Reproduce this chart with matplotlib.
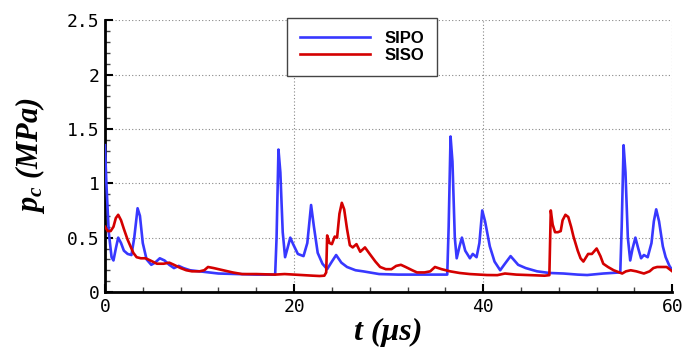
import matplotlib
matplotlib.use("Agg")
import matplotlib.pyplot as plt
from matplotlib.ticker import MultipleLocator

# ---- data ----
t_sipo = [0, 0.15, 0.4, 0.7, 0.9, 1.15, 1.4, 1.7, 2.0, 2.4, 2.8, 3.1, 3.45, 3.7, 4.0, 4.4,
          4.9, 5.3, 5.8, 6.3, 6.8, 7.3, 7.8, 8.3, 9.0, 10.0, 11.0, 12.0, 14.0, 16.0, 18.0,
          18.15, 18.35, 18.55, 18.8, 19.05, 19.3, 19.6, 19.9, 20.4, 21.0, 21.4, 21.8, 22.1,
          22.5, 23.0, 23.5, 24.0, 24.45, 25.0, 25.6, 26.5, 27.3, 29.0, 31.0, 33.0, 35.0,
          36.2, 36.35, 36.55, 36.75, 37.0, 37.2, 37.5, 37.75, 38.1, 38.6, 38.9, 39.3, 39.6,
          39.9, 40.2, 40.7, 41.2, 41.8, 42.3, 42.9, 43.7, 44.5, 45.7, 47.0, 48.5, 50.0, 51.0,
          52.7, 54.5, 54.65, 54.85, 55.05, 55.3, 55.55, 55.8, 56.1, 56.4, 56.7, 57.0, 57.4,
          57.8, 58.05, 58.3, 58.6, 59.0, 59.3, 59.7, 60.0]
p_sipo = [1.35, 1.0, 0.55, 0.32, 0.29, 0.4, 0.5, 0.45, 0.38, 0.35, 0.34, 0.5, 0.77, 0.7, 0.45, 0.3,
          0.25, 0.27, 0.31, 0.29, 0.25, 0.22, 0.24, 0.22, 0.2, 0.19, 0.18, 0.17, 0.165, 0.16, 0.16,
          0.5, 1.31, 1.1, 0.55, 0.32, 0.4, 0.5, 0.44, 0.35, 0.33, 0.45, 0.8, 0.6,
          0.36, 0.26, 0.21, 0.28, 0.34, 0.27, 0.23, 0.2, 0.19, 0.165, 0.16, 0.16, 0.16,
          0.16, 0.6, 1.43, 1.2, 0.5, 0.31, 0.42, 0.5, 0.38, 0.31, 0.35, 0.32, 0.45,
          0.75, 0.65, 0.42, 0.28, 0.2, 0.26, 0.33, 0.25, 0.22, 0.19, 0.175, 0.17, 0.16, 0.156,
          0.17, 0.18, 0.6, 1.35, 1.1, 0.5, 0.29, 0.4, 0.5, 0.4, 0.31, 0.34, 0.32,
          0.45, 0.65, 0.76, 0.65, 0.42, 0.32, 0.24, 0.2]

t_siso = [0, 0.3, 0.6, 0.9, 1.15, 1.4, 1.7, 2.0, 2.4, 2.7, 3.0, 3.35, 3.8, 4.3, 4.8, 5.5, 6.2,
          6.8, 7.3, 8.0, 8.6, 9.2, 10.0, 10.5, 10.9, 11.5, 12.5, 13.5, 14.5, 16.0, 18.0, 19.0,
          20.0, 21.0, 22.0, 22.7, 23.2, 23.4, 23.5, 23.75, 24.0, 24.3, 24.55, 24.8, 25.05,
          25.3, 25.6, 25.9, 26.2, 26.6, 27.0, 27.5, 28.0, 28.6, 29.1, 29.7, 30.3, 30.8, 31.3,
          31.8, 32.5, 33.0, 33.8, 34.4, 34.9, 35.6, 36.5, 37.5, 38.6, 40.4, 41.5, 42.3, 43.5,
          45.0, 46.5, 47.0, 47.15, 47.35, 47.6, 47.9, 48.2, 48.4, 48.7, 49.0, 49.3, 49.55,
          50.0, 50.3, 50.6, 51.1, 51.5, 52.0, 52.4, 52.7, 53.2, 53.8, 54.7, 55.1, 55.6, 56.2,
          57.0, 57.6, 58.0, 58.4, 59.4, 60.0]
p_siso = [0.6, 0.56, 0.56, 0.6, 0.68, 0.71, 0.66, 0.58, 0.48, 0.42, 0.36, 0.32, 0.31, 0.31, 0.29, 0.26, 0.26,
          0.27, 0.25, 0.22, 0.2, 0.19, 0.19, 0.2, 0.23, 0.22, 0.2, 0.18, 0.165, 0.165, 0.16, 0.165,
          0.16, 0.155, 0.15, 0.147, 0.15, 0.18, 0.52, 0.45, 0.44, 0.51, 0.5, 0.72, 0.82,
          0.76, 0.58, 0.43, 0.41, 0.44, 0.37, 0.41, 0.35, 0.28, 0.23, 0.21, 0.21, 0.24, 0.25,
          0.23, 0.2, 0.18, 0.18, 0.19, 0.23, 0.21, 0.19, 0.175, 0.165, 0.156, 0.155, 0.17, 0.16,
          0.155, 0.15, 0.155, 0.75, 0.62, 0.55, 0.55, 0.56, 0.66, 0.71, 0.69, 0.6, 0.51,
          0.38, 0.31, 0.28, 0.35, 0.35, 0.4, 0.33, 0.26, 0.23, 0.2, 0.17, 0.19, 0.2, 0.19,
          0.17, 0.19, 0.22, 0.23, 0.23, 0.19]

labels = ["SIPO", "SISO"]
y_ticks = [0, 0.5, 1, 1.5, 2, 2.5]
y_ticklabels = ["0", "0.5", "1", "1.5", "2", "2.5"]
x_ticks = [0, 20, 40, 60]
x_ticklabels = ["0", "20", "40", "60"]

plt.rcParams['mathtext.fontset'] = 'custom'
plt.rcParams['mathtext.it'] = 'Liberation Serif:italic:bold'
plt.rcParams['mathtext.rm'] = 'Liberation Serif:bold'
plt.rcParams['mathtext.bf'] = 'Liberation Serif:bold'

fig = plt.figure(figsize=(6.86, 3.47), dpi=100)
ax = fig.add_axes([0.153, 0.1585, 0.827, 0.7835])

ax.plot(t_sipo, p_sipo, color="#3838ff", lw=1.9, label=labels[0], zorder=3)
ax.plot(t_siso, p_siso, color="#d40000", lw=1.9, label=labels[1], zorder=3)

ax.set_xlim(0, 60)
ax.set_ylim(0, 2.5)
ax.set_xticks(x_ticks)
ax.set_xticklabels(x_ticklabels)
ax.set_yticks(y_ticks)
ax.set_yticklabels(y_ticklabels)
ax.xaxis.set_minor_locator(MultipleLocator(4))
ax.yaxis.set_minor_locator(MultipleLocator(0.1))

for lab in ax.get_xticklabels() + ax.get_yticklabels():
    lab.set_fontfamily("DejaVu Sans Mono")
    lab.set_fontsize(13)

ax.tick_params(which="major", direction="in", length=6, width=1.5, color="black", pad=4)
ax.tick_params(which="minor", direction="in", length=3.5, width=1.0, color="#444444")
ax.tick_params(axis="x", which="both", top=False)
ax.tick_params(axis="y", which="both", right=False)

for side in ["top", "right"]:
    ax.spines[side].set_visible(False)
for side in ["left", "bottom"]:
    ax.spines[side].set_linewidth(2.0)

ax.grid(True, which="major", linestyle=(0, (1, 2)), color="#888888", linewidth=0.8)
ax.set_axisbelow(True)

ax.set_xlabel("t (μs)", fontfamily="Liberation Serif", fontstyle="italic",
              fontweight="bold", fontsize=23, labelpad=2)
ax.set_ylabel(r"$p_c$ (MPa)", fontfamily="Liberation Serif", fontstyle="italic",
              fontweight="bold", fontsize=22, labelpad=14)

leg = ax.legend(loc="upper left", bbox_to_anchor=(0.321, 1.007),
                prop={"family": "Liberation Sans", "weight": "bold", "size": 12},
                handlelength=4.2, handletextpad=0.9, labelspacing=0.15,
                borderpad=0.75, borderaxespad=0, fancybox=False, framealpha=1,
                edgecolor="#444444")
leg.get_frame().set_linewidth(1.0)

fig.savefig("out.png", dpi=100)
